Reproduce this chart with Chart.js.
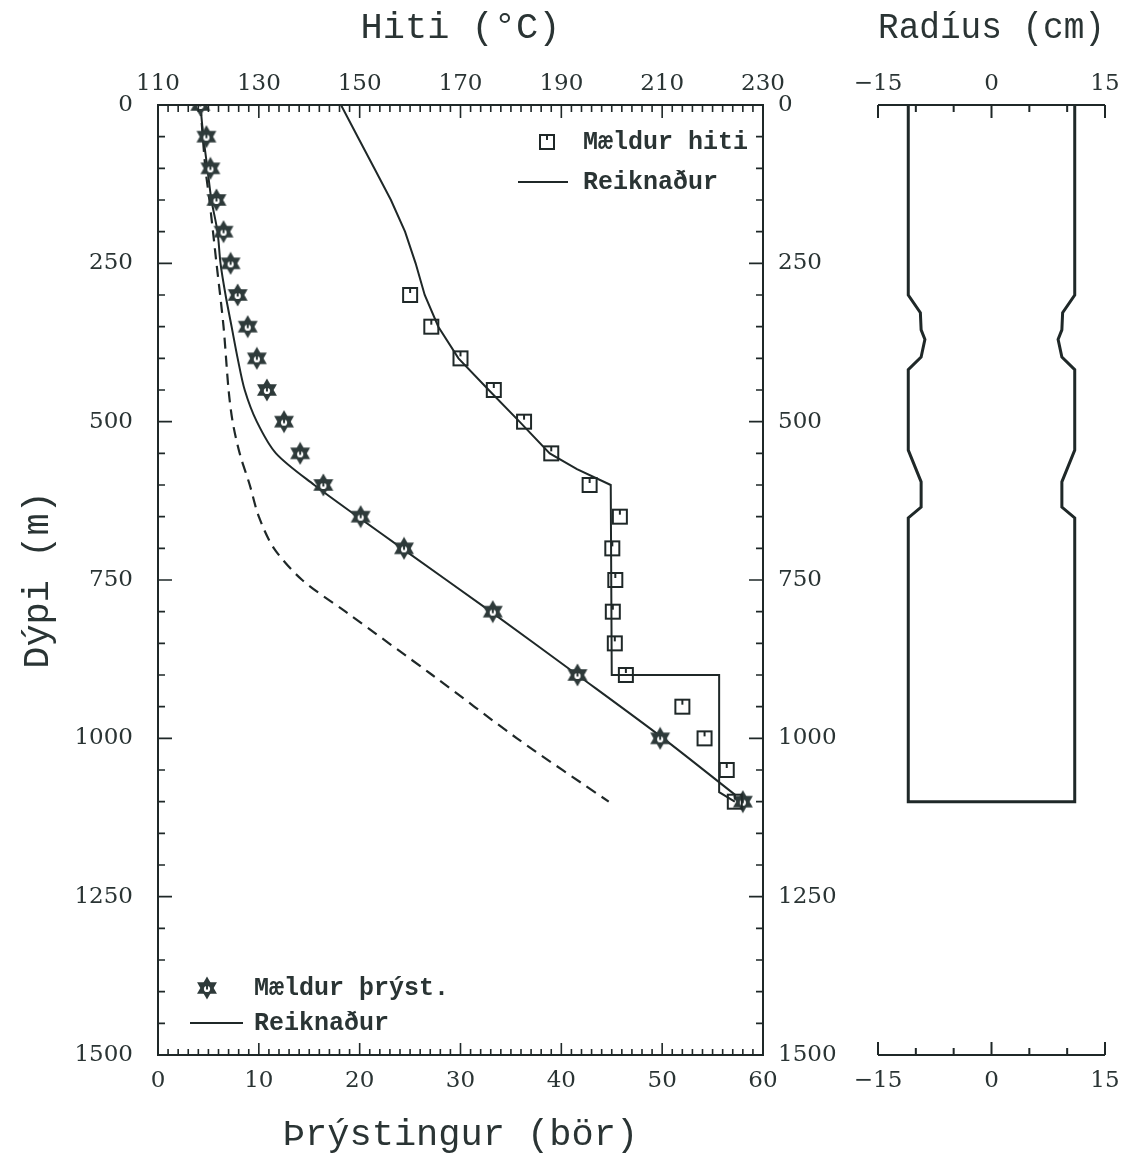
<!DOCTYPE html>
<html>
<head>
<meta charset="utf-8">
<script src="https://cdn.jsdelivr.net/npm/chart.js@4.4.1/dist/chart.umd.min.js"></script>
<style>
  html, body { margin: 0; padding: 0; background: #ffffff; }
  #wrap { position: relative; width: 1136px; height: 1157px; overflow: hidden; }
  #main { position: absolute; left: 0; top: 0; }
  #casing { position: absolute; left: 830px; top: 0; }
</style>
</head>
<body>
<div id="wrap">
  <canvas id="main" width="860" height="1157"></canvas>
  <canvas id="casing" width="306" height="1157"></canvas>
</div>
<script>
// ---------------- DATA ----------------
// Measured temperature (Mældur hiti), °C vs depth (m)
const tempMeasDepth = [300, 350, 400, 450, 500, 550, 600, 650, 700, 750, 800, 850, 900, 950, 1000, 1050, 1100];
const tempMeas      = [160.0, 164.2, 170.0, 176.6, 182.6, 188.0, 195.6, 201.6, 200.1, 200.7, 200.2, 200.6, 202.8, 214.0, 218.4, 222.8, 224.4];

// Calculated temperature (Reiknaður)
const tempCalcDepth = [0, 50, 100, 150, 200, 250, 300, 350, 400, 450, 500, 550, 575, 600, 900, 900, 1085, 1100];
const tempCalc      = [146.3, 149.6, 152.9, 156.2, 159.0, 161.1, 162.9, 165.6, 169.6, 175.6, 181.7, 187.7, 193.1, 199.8, 200.0, 221.3, 221.3, 224.4];

// Measured pressure (Mældur þrýst.), bar vs depth (m)
const presMeasDepth = [0, 50, 100, 150, 200, 250, 300, 350, 400, 450, 500, 550, 600, 650, 700, 800, 900, 1000, 1100];
const presMeas      = [4.2, 4.8, 5.2, 5.8, 6.5, 7.2, 7.9, 8.9, 9.8, 10.8, 12.5, 14.1, 16.4, 20.1, 24.4, 33.2, 41.6, 49.8, 58.0];

// Calculated pressure (Reiknaður)
const presCalcDepth = [0, 50, 100, 150, 200, 250, 300, 350, 400, 450, 500, 550, 600, 650, 700, 800, 900, 1000, 1090];
const presCalc      = [4.2, 4.5, 4.9, 5.3, 5.9, 6.2, 6.7, 7.3, 7.9, 8.6, 9.8, 11.7, 15.5, 19.8, 24.2, 33.0, 41.6, 50.1, 57.3];

// Dashed pressure curve
const presDashDepth = [0, 100, 150, 250, 350, 450, 500, 550, 600, 650, 700, 750, 800, 900, 1000, 1100];
const presDash      = [4.2, 4.7, 5.1, 5.8, 6.5, 7.0, 7.4, 8.1, 9.1, 10.0, 11.5, 14.3, 18.6, 27.2, 35.6, 44.7];

// Well casing radius profile (cm) vs depth (m)
const casingDepth  = [0, 300, 328, 355, 370, 398, 418, 545, 595, 635, 652, 1100];
const casingRadius = [11, 11, 9.4, 9.3, 8.8, 9.3, 11, 11, 9.3, 9.3, 11, 11];

// Tick labels / axis ranges
const depthTicks = [0, 250, 500, 750, 1000, 1250, 1500];
const pressureTicks = [0, 10, 20, 30, 40, 50, 60];
const tempTicks = [110, 130, 150, 170, 190, 210, 230];
const radiusTicks = [-15, 0, 15];

// ---------------- STYLE ----------------
const INK = '#1f2828';
const TEXT = '#2a3434';
const TICK_FONT = { family: 'DejaVu Serif', size: 23 };
const TITLE_FONT = { family: 'Liberation Mono', size: 37 };
const LEGEND_FONT = 'bold 25px "Liberation Mono"';

function makeStar(size, color) {
  const c = document.createElement('canvas');
  c.width = size; c.height = size;
  const g = c.getContext('2d');
  const cx = size / 2, cy = size / 2, R = size / 2 - 0.5;
  g.fillStyle = color;
  [-Math.PI / 2, Math.PI / 2].forEach(rot => {
    g.beginPath();
    for (let k = 0; k < 3; k++) {
      const a = rot + k * 2 * Math.PI / 3;
      const px = cx + R * Math.cos(a), py = cy + R * Math.sin(a);
      if (k) g.lineTo(px, py); else g.moveTo(px, py);
    }
    g.closePath(); g.fill();
  });
  g.fillStyle = '#ffffff';
  g.beginPath(); g.arc(cx, cy + 1, R * 0.27, 0, Math.PI * 2); g.fill();
  g.fillStyle = color;
  g.fillRect(cx - 1, cy - R * 0.25, 2, R * 0.38);
  return c;
}
function makeSquare(size, color) {
  const c = document.createElement('canvas');
  c.width = size; c.height = size;
  const g = c.getContext('2d');
  g.strokeStyle = color; g.lineWidth = 2;
  g.strokeRect(2, 2, size - 4, size - 4);
  g.beginPath(); g.moveTo(size / 2, 2); g.lineTo(size / 2, 7); g.stroke();
  return c;
}
const starImg = makeStar(24, '#2e3a3a');
const squareImg = makeSquare(18, INK);

const pts = (xs, ys) => xs.map((v, i) => ({ x: v, y: ys[i] }));
const plain = v => String(v);

// ---------------- FRAME + TICKS PLUGIN (main) ----------------
const frameTicks = {
  id: 'frameTicks',
  afterDatasetsDraw(chart) {
    const g = chart.ctx, a = chart.chartArea, s = chart.scales;
    g.save();
    g.strokeStyle = INK; g.lineWidth = 2;
    g.strokeRect(a.left, a.top, a.right - a.left, a.bottom - a.top);
    g.lineWidth = 1.6;
    g.beginPath();
    for (let t = 110; t <= 230; t += 2) {
      const x = s.xT.getPixelForValue(t);
      const L = (t - 110) % 20 === 0 ? 13 : 7;
      g.moveTo(x, a.top); g.lineTo(x, a.top + L);
    }
    for (let p = 0; p <= 60; p += 1) {
      const x = s.xP.getPixelForValue(p);
      const L = p % 10 === 0 ? 12 : 6;
      g.moveTo(x, a.bottom); g.lineTo(x, a.bottom - L);
    }
    for (let d = 0; d <= 1500; d += 50) {
      const y = s.y.getPixelForValue(d);
      const L = d % 250 === 0 ? 14 : 7;
      g.moveTo(a.left, y); g.lineTo(a.left + L, y);
      g.moveTo(a.right, y); g.lineTo(a.right - L, y);
    }
    g.stroke();

    // Legends
    g.fillStyle = TEXT; g.font = LEGEND_FONT; g.textBaseline = 'middle'; g.textAlign = 'left';
    const lx = a.right - 180;
    g.drawImage(squareImg, lx - 36 - 9, 142 - 9);
    g.fillText('Mældur hiti', lx, 143);
    g.lineWidth = 2; g.strokeStyle = INK;
    g.beginPath(); g.moveTo(lx - 65, 182); g.lineTo(lx - 15, 182); g.stroke();
    g.fillText('Reiknaður', lx, 183);
    const bx = a.left + 96;
    g.drawImage(starImg, bx - 47 - 12, 988 - 12);
    g.fillText('Mældur þrýst.', bx, 989);
    g.beginPath(); g.moveTo(bx - 64, 1023); g.lineTo(bx - 11, 1023); g.stroke();
    g.fillText('Reiknaður', bx, 1024);
    g.restore();
  }
};

const tickOpts = extra => Object.assign({
  color: TEXT, font: TICK_FONT, autoSkip: false, maxRotation: 0, minRotation: 0, callback: plain
}, extra || {});
const noGrid = { display: false, drawTicks: false };

new Chart(document.getElementById('main'), {
  type: 'scatter',
  data: {
    datasets: [
      { label: 'Mældur hiti', data: pts(tempMeas, tempMeasDepth), xAxisID: 'xT', yAxisID: 'y',
        pointStyle: squareImg, pointRadius: 9, showLine: false },
      { label: 'Mældur þrýst.', data: pts(presMeas, presMeasDepth), xAxisID: 'xP', yAxisID: 'y',
        pointStyle: starImg, pointRadius: 12, showLine: false },
      { label: 'Reiknaður (hiti)', data: pts(tempCalc, tempCalcDepth), xAxisID: 'xT', yAxisID: 'y',
        showLine: true, pointRadius: 0, borderColor: INK, borderWidth: 2, tension: 0 },
      { label: 'Reiknaður (þrýst.)', data: pts(presCalc, presCalcDepth), xAxisID: 'xP', yAxisID: 'y',
        showLine: true, pointRadius: 0, borderColor: INK, borderWidth: 2, tension: 0.3 },
      { label: 'Þrýstingur (brotin lína)', data: pts(presDash, presDashDepth), xAxisID: 'xP', yAxisID: 'y',
        showLine: true, pointRadius: 0, borderColor: INK, borderWidth: 2.2, borderDash: [11, 7], tension: 0.3 }
    ]
  },
  options: {
    responsive: false, animation: false,
    layout: { padding: 0 },
    plugins: { legend: { display: false }, tooltip: { enabled: false } },
    scales: {
      xP: {
        type: 'linear', position: 'bottom', min: 0, max: 60,
        afterBuildTicks: s => { s.ticks = pressureTicks.map(v => ({ value: v })); },
        ticks: tickOpts({ padding: 12 }),
        grid: noGrid, border: { display: false },
        title: { display: true, text: 'Þrýstingur (bör)', color: TEXT, font: TITLE_FONT, padding: { top: 0, bottom: 0 } },
        afterFit: s => { s.height = 102; }
      },
      xT: {
        type: 'linear', position: 'top', min: 110, max: 230,
        afterBuildTicks: s => { s.ticks = tempTicks.map(v => ({ value: v })); },
        ticks: tickOpts({ padding: 7 }),
        grid: noGrid, border: { display: false },
        title: { display: true, text: 'Hiti (°C)', color: TEXT, font: TITLE_FONT, padding: { top: 6, bottom: 0 } },
        afterFit: s => { s.height = 105; }
      },
      y: {
        type: 'linear', position: 'left', min: 0, max: 1500, reverse: true,
        afterBuildTicks: s => { s.ticks = depthTicks.map(v => ({ value: v })); },
        ticks: tickOpts({ padding: 25 }),
        grid: noGrid, border: { display: false },
        title: { display: true, text: 'Dýpi (m)', color: TEXT, font: TITLE_FONT, padding: { top: 16, bottom: 0 } },
        afterFit: s => { s.width = 158; }
      },
      y2: {
        type: 'linear', position: 'right', min: 0, max: 1500, reverse: true,
        afterBuildTicks: s => { s.ticks = depthTicks.map(v => ({ value: v })); },
        ticks: tickOpts({ padding: 15 }),
        grid: noGrid, border: { display: false },
        afterFit: s => { s.width = 97; }
      }
    }
  },
  plugins: [frameTicks]
});

// ---------------- CASING PANEL ----------------
const casingPts = [];
casingDepth.forEach((d, i) => casingPts.push({ x: -casingRadius[i], y: d }));
for (let i = casingDepth.length - 1; i >= 0; i--) casingPts.push({ x: casingRadius[i], y: casingDepth[i] });

const casingTicks = {
  id: 'casingTicks',
  afterDatasetsDraw(chart) {
    const g = chart.ctx, a = chart.chartArea, s = chart.scales;
    g.save();
    g.strokeStyle = INK; g.lineWidth = 2;
    g.beginPath();
    g.moveTo(a.left, a.top); g.lineTo(a.right, a.top);
    g.moveTo(a.left, a.bottom); g.lineTo(a.right, a.bottom);
    for (let r = -15; r <= 15; r += 5) {
      const x = s.xB.getPixelForValue(r);
      const L = r % 15 === 0 ? 13 : 7;
      g.moveTo(x, a.top); g.lineTo(x, a.top + L);
      g.moveTo(x, a.bottom); g.lineTo(x, a.bottom - L);
    }
    g.stroke();
    g.restore();
  }
};

const radLabel = v => (v < 0 ? '\u2212' + Math.abs(v) : String(v));

new Chart(document.getElementById('casing'), {
  type: 'scatter',
  data: {
    datasets: [
      { label: 'Radíus', data: casingPts, xAxisID: 'xB', yAxisID: 'yC',
        showLine: true, pointRadius: 0, borderColor: INK, borderWidth: 3, tension: 0 }
    ]
  },
  options: {
    responsive: false, animation: false,
    layout: { padding: { left: 48, right: 31, top: 0, bottom: 0 } },
    plugins: { legend: { display: false }, tooltip: { enabled: false } },
    scales: {
      xTop: {
        type: 'linear', position: 'top', min: -15, max: 15,
        afterBuildTicks: s => { s.ticks = radiusTicks.map(v => ({ value: v })); },
        ticks: { color: TEXT, font: TICK_FONT, padding: 7, maxRotation: 0, autoSkip: false, callback: radLabel },
        grid: noGrid, border: { display: false },
        title: { display: true, text: 'Radíus (cm)', color: TEXT, font: TITLE_FONT, padding: { top: 6, bottom: 0 } },
        afterFit: s => { s.height = 105; }
      },
      xB: {
        type: 'linear', position: 'bottom', min: -15, max: 15,
        afterBuildTicks: s => { s.ticks = radiusTicks.map(v => ({ value: v })); },
        ticks: { color: TEXT, font: TICK_FONT, padding: 12, maxRotation: 0, autoSkip: false, callback: radLabel },
        grid: noGrid, border: { display: false },
        afterFit: s => { s.height = 102; }
      },
      yC: {
        type: 'linear', display: false, min: 0, max: 1500, reverse: true
      }
    }
  },
  plugins: [casingTicks]
});
</script>
</body>
</html>
